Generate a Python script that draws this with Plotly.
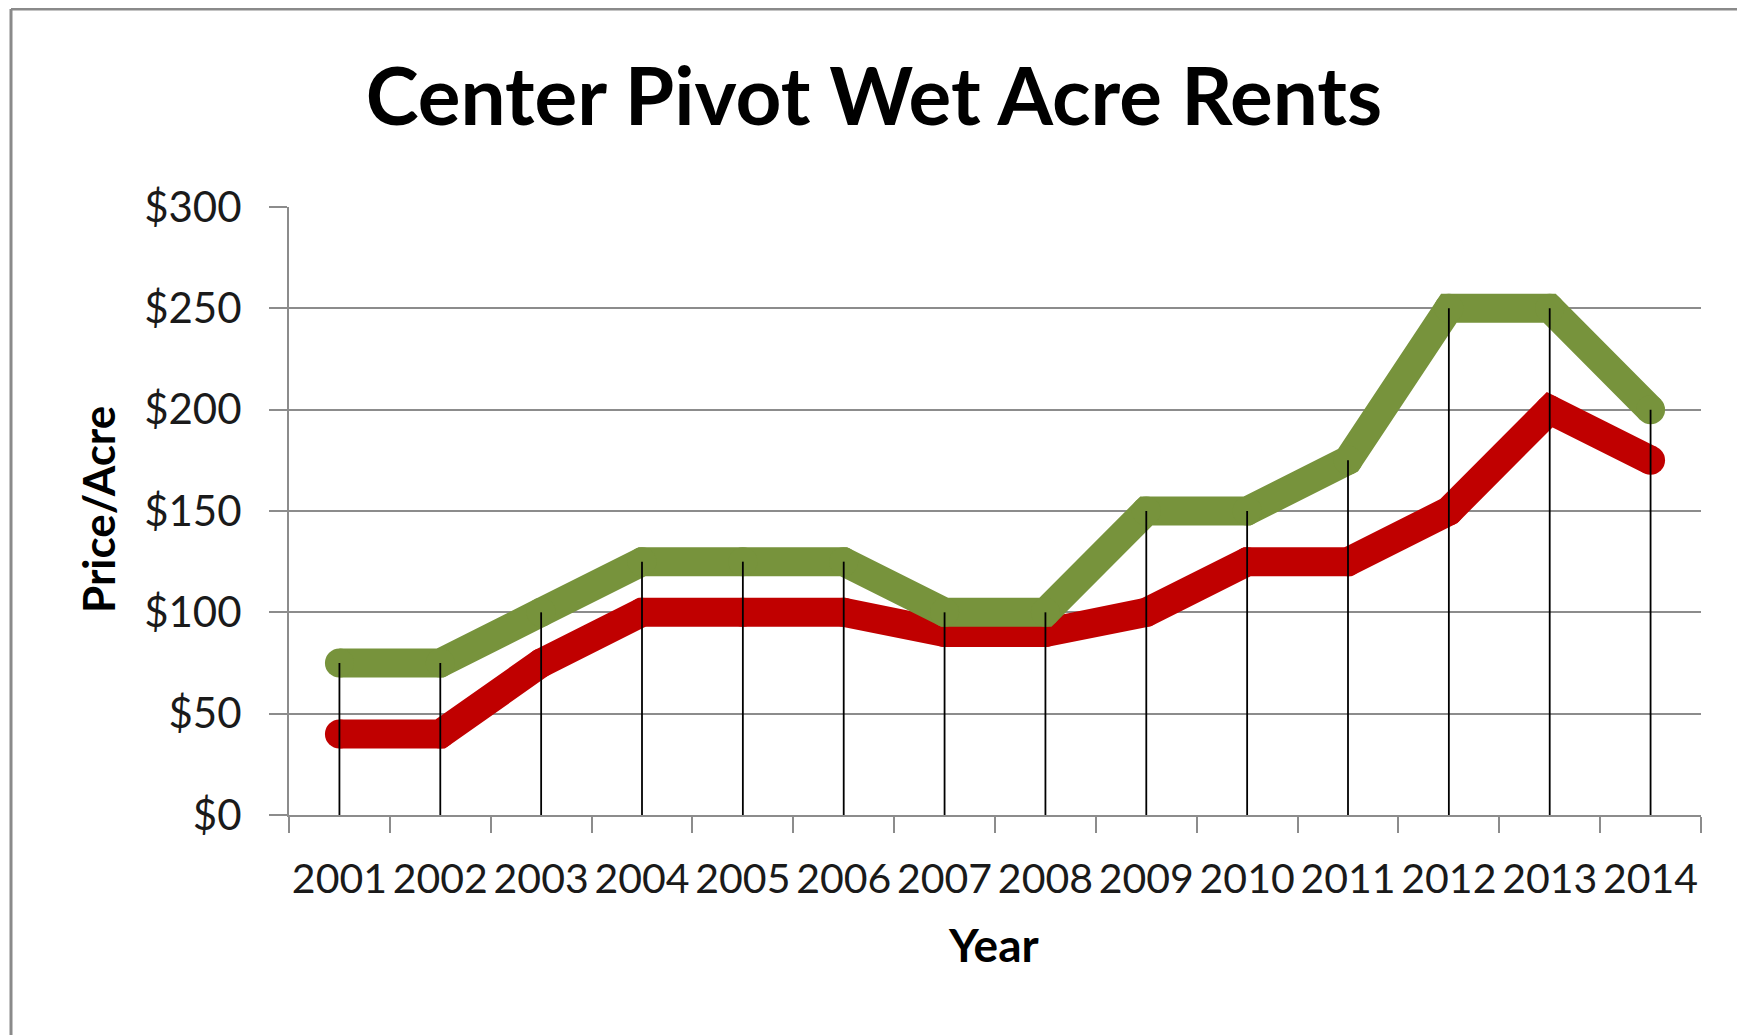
import plotly.graph_objects as go

years = ["2001", "2002", "2003", "2004", "2005", "2006", "2007",
         "2008", "2009", "2010", "2011", "2012", "2013", "2014"]
high_rent = [75, 75, 100, 125, 125, 125, 100, 100, 150, 150, 175, 250, 250, 200]
low_rent = [40, 40, 75, 100, 100, 100, 90, 90, 100, 125, 125, 150, 200, 175]
y_ticks = [0, 50, 100, 150, 200, 250, 300]

GREEN = "#77933C"
RED = "#C00000"
GRID = "#8C8C8C"
FONT = "Lato"

OFF = 8  # page body margin
W, H = 1745 - OFF, 1035 - OFF
# plot area in page pixels: x 289..1701, y 207..815
L = 289 - OFF
T = 207 - OFF
R = W - (1701 - OFF)
B = H - (815 - OFF)
pw, ph = W - L - R, H - T - B

def px(xpage):
    return (xpage - OFF - L) / pw

def py(ypage):
    return (H - B - (ypage - OFF)) / ph

fig = go.Figure()

fig.add_trace(go.Scatter(
    x=years, y=low_rent, mode="lines+markers",
    line=dict(color=RED, width=29),
    marker=dict(color=RED, size=29, line=dict(width=0)),
    showlegend=False, hoverinfo="x+y"))
fig.add_trace(go.Scatter(
    x=years, y=high_rent, mode="lines+markers",
    line=dict(color=GREEN, width=29),
    marker=dict(color=GREEN, size=29, line=dict(width=0)),
    showlegend=False, hoverinfo="x+y"))

# drop lines from the high series to the axis
drop_x, drop_y = [], []
for yr, v in zip(years, high_rent):
    drop_x += [yr, yr, None]
    drop_y += [v, 0, None]
fig.add_trace(go.Scatter(
    x=drop_x, y=drop_y, mode="lines",
    line=dict(color="black", width=1.8),
    showlegend=False, hoverinfo="skip"))

fig.update_layout(
    width=W, height=H,
    margin=dict(l=L, r=R, t=T, b=B, pad=0, autoexpand=False),
    paper_bgcolor="white", plot_bgcolor="white",
    font=dict(family=FONT, color="#1a1a1a"),
    title=dict(text="<b>Center Pivot Wet Acre Rents</b>",
               font=dict(family=FONT, size=80, color="black"),
               x=(874 - OFF) / W, xanchor="center",
               y=1 - (97 - OFF) / H, yanchor="middle", xref="container", yref="container"),
    xaxis=dict(
        type="category", categoryorder="array", categoryarray=years,
        range=[-0.5, len(years) - 0.5], automargin=False,
        tickson="boundaries", ticks="outside", ticklen=16, tickwidth=2, tickcolor=GRID,
        showline=True, linecolor=GRID, linewidth=2,
        showgrid=False, zeroline=False, tickangle=0,
        tickfont=dict(family=FONT, size=41, color="#1a1a1a"),
        ticklabelstandoff=27,
    ),
    yaxis=dict(
        range=[0, 300], tickvals=y_ticks, automargin=False,
        ticktext=[f"${v}" for v in y_ticks],
        ticks="outside", ticklen=18, tickwidth=2, tickcolor=GRID,
        showline=True, linecolor=GRID, linewidth=2,
        showgrid=True, gridcolor=GRID, gridwidth=2,
        zeroline=False,
        tickfont=dict(family=FONT, size=42, color="#1a1a1a"),
        ticklabelstandoff=19,
    ),
    annotations=[
        dict(text="<b>Year</b>", xref="paper", yref="paper",
             x=px(993), y=py(944), xanchor="center", yanchor="middle",
             showarrow=False, font=dict(family=FONT, size=46, color="black")),
        dict(text="<b>Price/Acre</b>", xref="paper", yref="paper",
             x=px(98), y=py(510), xanchor="center", yanchor="middle",
             textangle=-90, showarrow=False,
             font=dict(family=FONT, size=44, color="black")),
    ],
    shapes=[
        dict(type="line", xref="paper", yref="paper",
             x0=px(11), x1=px(1760), y0=py(9), y1=py(9),
             line=dict(color="#8A8A8A", width=3)),
        dict(type="line", xref="paper", yref="paper",
             x0=px(11), x1=px(11), y0=py(9), y1=py(1045),
             line=dict(color="#8A8A8A", width=3)),
    ],
)

fig.write_html("out.html")
